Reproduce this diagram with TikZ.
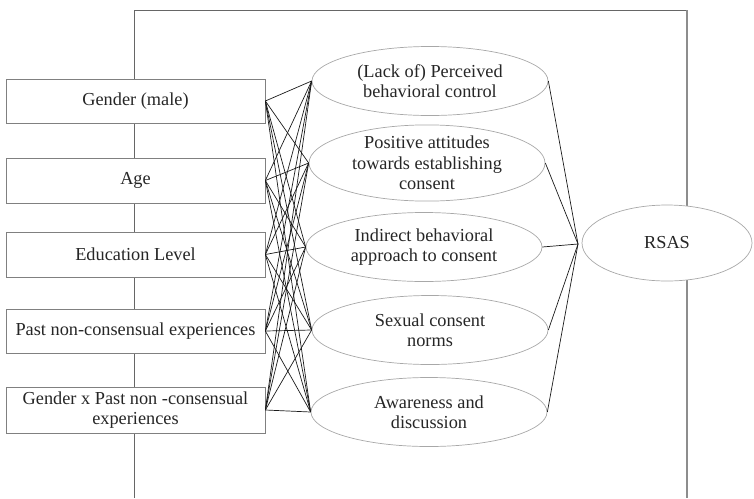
\documentclass[tikz,border=0pt]{standalone}
\usepackage{fontspec}
\setmainfont{Liberation Serif}
\usetikzlibrary{shapes.geometric}
\definecolor{framegray}{HTML}{666666}
\definecolor{boxgray}{HTML}{808080}
\definecolor{ellgray}{HTML}{A8A8A8}
\definecolor{linkblack}{HTML}{1A1A1A}
\begin{document}
\begin{tikzpicture}[x=1pt,y=-1pt,
  txt/.style={font=\fontsize{18.3}{20.5}\selectfont, align=center, text=black!85},
  predbox/.style={txt, draw=boxgray, line width=0.7pt, fill=white, rectangle,
    minimum width=259pt, inner sep=0pt},
  medell/.style={txt, draw=ellgray, line width=0.7pt, fill=white, ellipse,
    minimum width=236pt, minimum height=69pt, inner sep=0pt},
  frameline/.style={draw=framegray, line width=0.9pt},
  rightline/.style={draw=boxgray!90, line width=1.4pt},
  link/.style={draw=linkblack, line width=0.7pt}]
\useasboundingbox (0,0) rectangle (754,498);
% frame
\coordinate (fbl) at (134,498);
\coordinate (ftl) at (134,10);
\coordinate (ftr) at (687,10);
\coordinate (fbr) at (687,498);
\draw[frameline] (fbl) -- (ftl) -- (ftr);
\draw[rightline] (ftr) -- (fbr);
% predictor boxes
\node[predbox, minimum height=44pt] (b1) at (135.5,101) {Gender (male)};
\node[predbox, minimum height=45pt] (b2) at (135.5,180.5) {Age};
\node[predbox, minimum height=45pt] (b3) at (135.5,254.5) {Education Level};
\node[predbox, minimum height=44pt] (b4) at (135.5,331) {Past non-consensual experiences};
\node[predbox, minimum height=46pt] (b5) at (135.5,410) {Gender x Past non -consensual\\experiences};
% mediator ellipses
\node[medell] (e1) at (430,81) {(Lack of) Perceived\\behavioral control};
\node[medell] (e2) at (427,163) {Positive attitudes\\towards establishing\\consent};
\node[medell] (e3) at (424,247) {Indirect behavioral\\approach to consent};
\node[medell] (e4) at (430,330) {Sexual consent\\norms};
\node[medell] (e5) at (429,412) {Awareness and\\discussion};
% outcome
\node[medell, minimum width=170pt, minimum height=76pt] (rsas) at (667,243) {RSAS};
% links predictors -> mediators
\foreach \b in {b1,b2,b3,b4,b5}{
  \foreach \e in {e1,e2,e3,e4,e5}{
    \draw[link] (\b.east) -- (\e.west);
  }
}
% links mediators -> convergence
\coordinate (conv) at (578,244);
\foreach \e in {e1,e2,e3,e4,e5}{
  \draw[link] (\e.east) -- (conv);
}
\end{tikzpicture}
\end{document}
